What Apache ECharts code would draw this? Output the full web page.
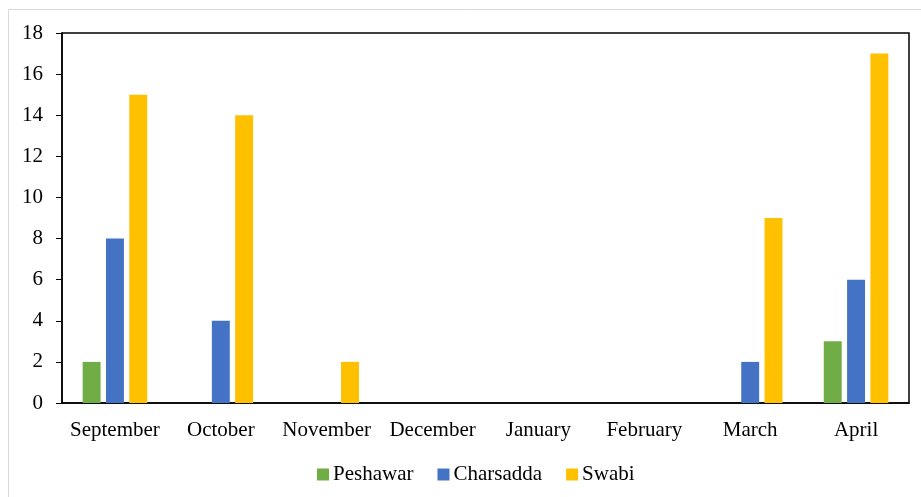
<!DOCTYPE html>
<html><head><meta charset="utf-8">
<script src="https://cdn.jsdelivr.net/npm/echarts@6/dist/echarts.min.js"></script>
<style>html,body{margin:0;padding:0;background:#fff}#c{width:921px;height:497px}</style>
</head><body><div id="c"></div>
<script>
const categories = ['September','October','November','December','January','February','March','April'];
const peshawar = [2,0,0,0,0,0,0,3];
const charsadda = [8,4,0,0,0,0,2,6];
const swabi = [15,14,2,0,0,0,9,17];
const seriesNames = ['Peshawar','Charsadda','Swabi'];
const colors = ['#70AD47','#4472C4','#FFC000'];
const font = 'Liberation Serif';
const chart = echarts.init(document.getElementById('c'));
const mk = (name, data, color) => ({
  name, type: 'bar', data,
  barGap: '30%', barCategoryGap: '39%',
  itemStyle: { color }
});
chart.setOption({
  animation: false,
  textStyle: { fontFamily: font },
  graphic: [{ type: 'rect', shape: { x: 8.5, y: 9.5, width: 930, height: 500 }, style: { fill: 'none', stroke: '#d9d9d9', lineWidth: 1 }, z: 0 }],
  grid: { left: 62, right: 12, top: 33, bottom: 94, show: true, borderColor: '#000', borderWidth: 1.5, backgroundColor: 'transparent' },
  legend: {
    bottom: 7, left: 312, itemWidth: 12, itemHeight: 12, itemGap: 24, icon: 'rect',
    textStyle: { fontFamily: font, fontSize: 21, color: '#000', padding: [0,0,0,-1] },
    data: seriesNames
  },
  xAxis: {
    type: 'category', data: categories,
    axisLine: { lineStyle: { color: '#000', width: 1.5 } },
    axisTick: { show: false },
    axisLabel: { fontFamily: font, fontSize: 21, color: '#000', margin: 17, interval: 0 }
  },
  yAxis: {
    type: 'value', min: 0, max: 18, interval: 2,
    axisLine: { show: true, lineStyle: { color: '#000', width: 1.5 } },
    axisTick: { show: true, length: 6, lineStyle: { color: '#000' } },
    splitLine: { show: false },
    axisLabel: { fontFamily: font, fontSize: 21, color: '#000', margin: 19 }
  },
  series: [mk(seriesNames[0], peshawar, colors[0]), mk(seriesNames[1], charsadda, colors[1]), mk(seriesNames[2], swabi, colors[2])]
});
</script></body></html>
